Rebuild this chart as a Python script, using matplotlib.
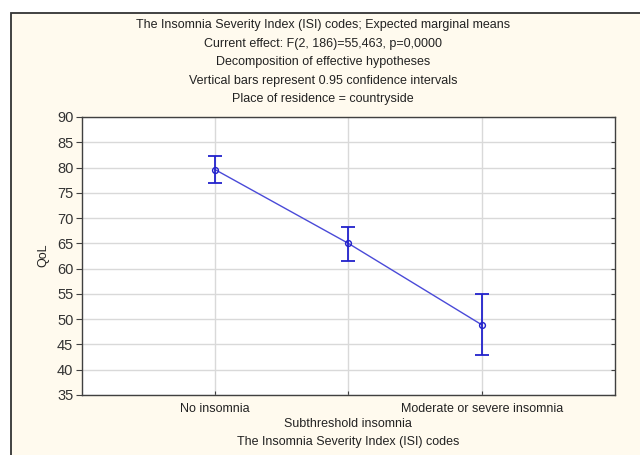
import matplotlib
matplotlib.use("Agg")
import matplotlib.pyplot as plt
import matplotlib.lines as mlines
from matplotlib.patches import Rectangle
import numpy as np

plt.rcParams['font.family'] = ['Liberation Sans', 'DejaVu Sans']

categories = ["No insomnia", "Subthreshold insomnia", "Moderate or severe insomnia"]
means = [79.6, 65.0, 48.9]
ci_low = [77.0, 61.6, 43.0]
ci_high = [82.3, 68.2, 54.9]
yticks = [35, 40, 45, 50, 55, 60, 65, 70, 75, 80, 85, 90]
title_lines = [
    "The Insomnia Severity Index (ISI) codes; Expected marginal means",
    "Current effect: F(2, 186)=55,463, p=0,0000",
    "Decomposition of effective hypotheses",
    "Vertical bars represent 0.95 confidence intervals",
    "Place of residence = countryside",
]

W, H = 640, 455
fig = plt.figure(figsize=(W / 100, H / 100), dpi=100)
fig.patch.set_facecolor("white")

# outer cream panel with border
fig.patches.append(Rectangle((11 / W, -0.01), 1.0, 1 - 13 / H + 0.01, transform=fig.transFigure,
                             facecolor="#fffaee", edgecolor="#333333", linewidth=1.3, zorder=-10))

left, right, top, bottom = 81.7, 615, 117, 395
ax = fig.add_axes([left / W, 1 - bottom / H, (right - left) / W, (bottom - top) / H])
ax.set_facecolor("white")

x = np.arange(len(categories))
yerr = [np.array(means) - np.array(ci_low), np.array(ci_high) - np.array(means)]
ax.plot(x, means, color="#4a4ad8", linewidth=1.0, zorder=3)
ax.errorbar(x, means, yerr=yerr, fmt="none", ecolor="#2222cc", elinewidth=1.3,
            capsize=4.7, capthick=1.3, zorder=4)
ax.plot(x, means, linestyle="none", marker="o", markersize=4.2, markerfacecolor="none",
        markeredgecolor="#2222cc", markeredgewidth=1.0, zorder=5)

ax.set_xlim(-1, 3)
ax.set_ylim(35, 90)
ax.set_yticks(yticks)
ax.set_xticks(x)
ax.set_xticklabels([])
ax.grid(True, color="#d9d9d9", linewidth=1.0)
ax.set_axisbelow(True)
for s in ax.spines.values():
    s.set_color("#404040")
    s.set_linewidth(1.0)
ax.tick_params(axis="y", direction="out", length=4, color="#404040", labelsize=10.5,
               labelcolor="#333333", pad=2, right=True)
ax.tick_params(axis="x", direction="in", length=3, color="#404040")
for t in ax.yaxis.get_major_ticks():
    t.tick2line.set_marker(mlines.TICKLEFT)
    t.tick2line.set_markersize(3)

# staggered category labels
for i, c in enumerate(categories):
    yy = 409 if i % 2 == 0 else 424
    fig.text((left + (i + 1) * (right - left) / 4) / W,
             1 - yy / H, c, ha="center", va="center", fontsize=9, color="#222222")

fig.text((left + 2 * (right - left) / 4) / W, 1 - 442 / H,
         "The Insomnia Severity Index (ISI) codes", ha="center", va="center", fontsize=9, color="#222222")
fig.text(43 / W, 1 - 255 / H, "QoL", rotation=90, ha="center", va="center", fontsize=9, color="#222222")

title_y = [25, 44, 62, 81, 99]
for ty, tl in zip(title_y, title_lines):
    fig.text(323 / W, 1 - ty / H, tl, ha="center", va="center", fontsize=9, color="#222222")

fig.savefig("out.png", dpi=100)
